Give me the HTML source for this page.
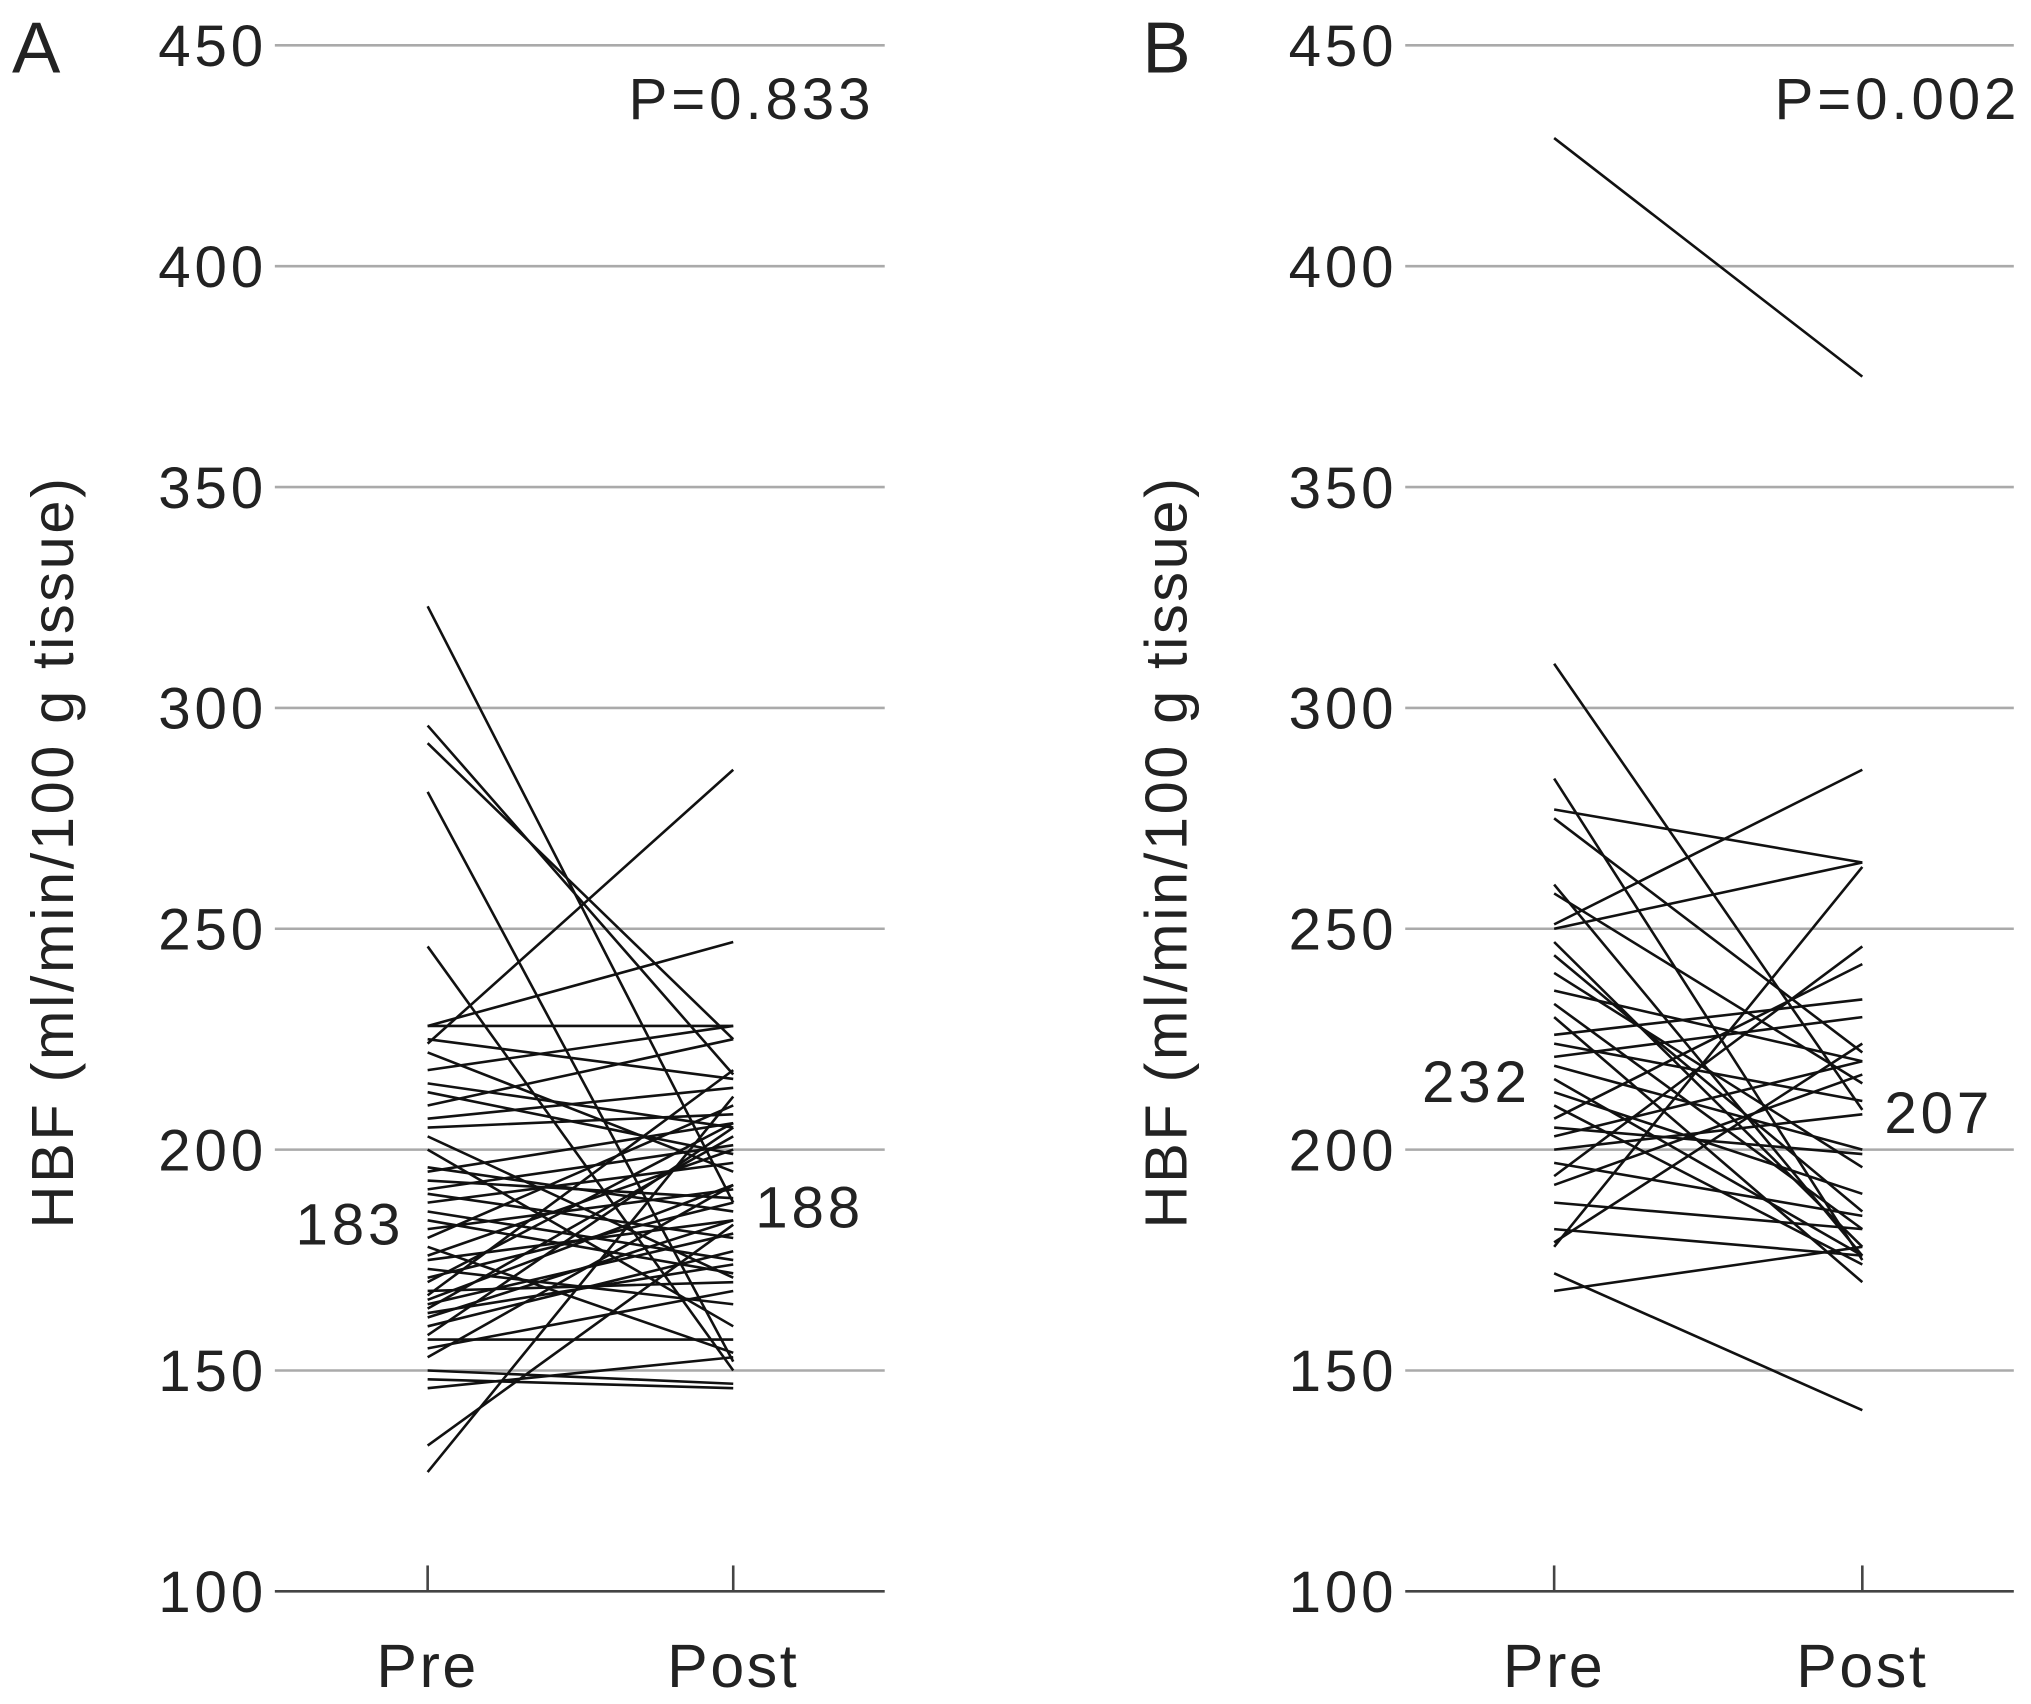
<!DOCTYPE html>
<html><head><meta charset="utf-8"><style>
html,body{margin:0;padding:0;background:#fff;}
svg{display:block;font-family:"Liberation Sans",sans-serif;}
</style></head><body>
<svg id="chart" width="2031" height="1704" viewBox="0 0 1568 1316" xmlns="http://www.w3.org/2000/svg"></svg>
<script>
const yTicks = [100,150,200,250,300,350,400,450];
const categories = ["Pre","Post"];
const preA = [323,296,292,281,246,224,228,228,225,222,218,215,213,210,207,205,203,200,196,195,193,191,190,188,186,184,182,180,178,176,175,173,171,170,168,167,166,165,164,163,162,160,158,157,155,153,150,148,146,133,127];
const postA = [188,217,225,152,150,286,247,228,216,195,228,205,199,225,214,208,171,160,186,206,189,201,180,197,175,172,191,210,154,200,184,165,188,206,170,218,192,181,203,174,184,177,205,157,168,192,147,146,153,183,212];
const preB = [429,310,284,277,275,260,258,251,250,247,244,240,236,233,230,226,224,221,219,216,213,210,207,205,203,200,197,194,192,188,182,179,178,172,168];
const postB = [375,209,175,265,222,176,215,286,265,178,186,196,220,182,170,234,211,230,200,176,190,174,242,199,220,208,185,246,217,182,176,224,264,141,178];
const meansA = ["183","188"];
const meansB = ["232","207"];
const pvals = ["P=0.833","P=0.002"];

const NS="http://www.w3.org/2000/svg";
const svg=document.getElementById('chart');
function mk(tag,attrs,parent){const e=document.createElementNS(NS,tag);for(const k in attrs)e.setAttribute(k,attrs[k]);(parent||svg).appendChild(e);return e;}
const y=v=>1229-(v-100)*(1194/350);

function panel(letter,gx0,gx1,xPre,xPost,titleX,pre,post,means,p,meanPos,pX){
  const g=mk('g',{});
  
  
  const L=mk('text',{x:gx0-203,y:56,'font-size':56,fill:'#222'},g);L.textContent=letter;
  
  
  yTicks.forEach(t=>{
    const ln=mk('line',{x1:gx0,x2:gx1,y1:y(t),y2:y(t),stroke:t===100?'#444':'#aaa','stroke-width':2},g);
    
    
    const tx=mk('text',{x:gx0-6,y:y(t)+16,'font-size':45,'letter-spacing':3,'text-anchor':'end',fill:'#222'},g);tx.textContent=t;
    
    
  });
  [xPre,xPost].forEach((x,i)=>{
    const tk=mk('line',{x1:x,x2:x,y1:1209,y2:1229,stroke:'#444','stroke-width':2},g);
    
    
    const t=mk('text',{x:x,y:1303,'font-size':47,'letter-spacing':2,'text-anchor':'middle',fill:'#222'},g);t.textContent=categories[i];
    
    
  });
  const yt=mk('text',{x:0,y:0,'font-size':46,'letter-spacing':2,'text-anchor':'middle',fill:'#222',transform:`translate(${titleX+16},658) rotate(-90)`},g);
  yt.textContent='HBF (ml/min/100  g tissue)';
  
  
  const pt=mk('text',{x:pX,y:92,'font-size':45,'letter-spacing':3,'text-anchor':'end',fill:'#222'},g);pt.textContent=p;
  
  
  for(let i=0;i<pre.length;i++){
    const l=mk('line',{x1:xPre,y1:y(pre[i]),x2:xPost,y2:y(post[i]),stroke:'#111','stroke-width':2},g);
    
    
  }
  const m1=mk('text',{x:xPre-18,y:meanPos[0],'font-size':45,'letter-spacing':3,'text-anchor':'end',fill:'#222'},g);m1.textContent=means[0];
  
  
  const m2=mk('text',{x:xPost+17,y:meanPos[1],'font-size':45,'letter-spacing':3,fill:'#222'},g);m2.textContent=means[1];
  
  
}
panel('A',212,683,330,566,40,preA,postA,meansA,pvals[0],[961,948],675);
panel('B',1085,1555,1200,1438,900,preB,postB,meansB,pvals[1],[851,875],1560);
</script>
</body></html>
